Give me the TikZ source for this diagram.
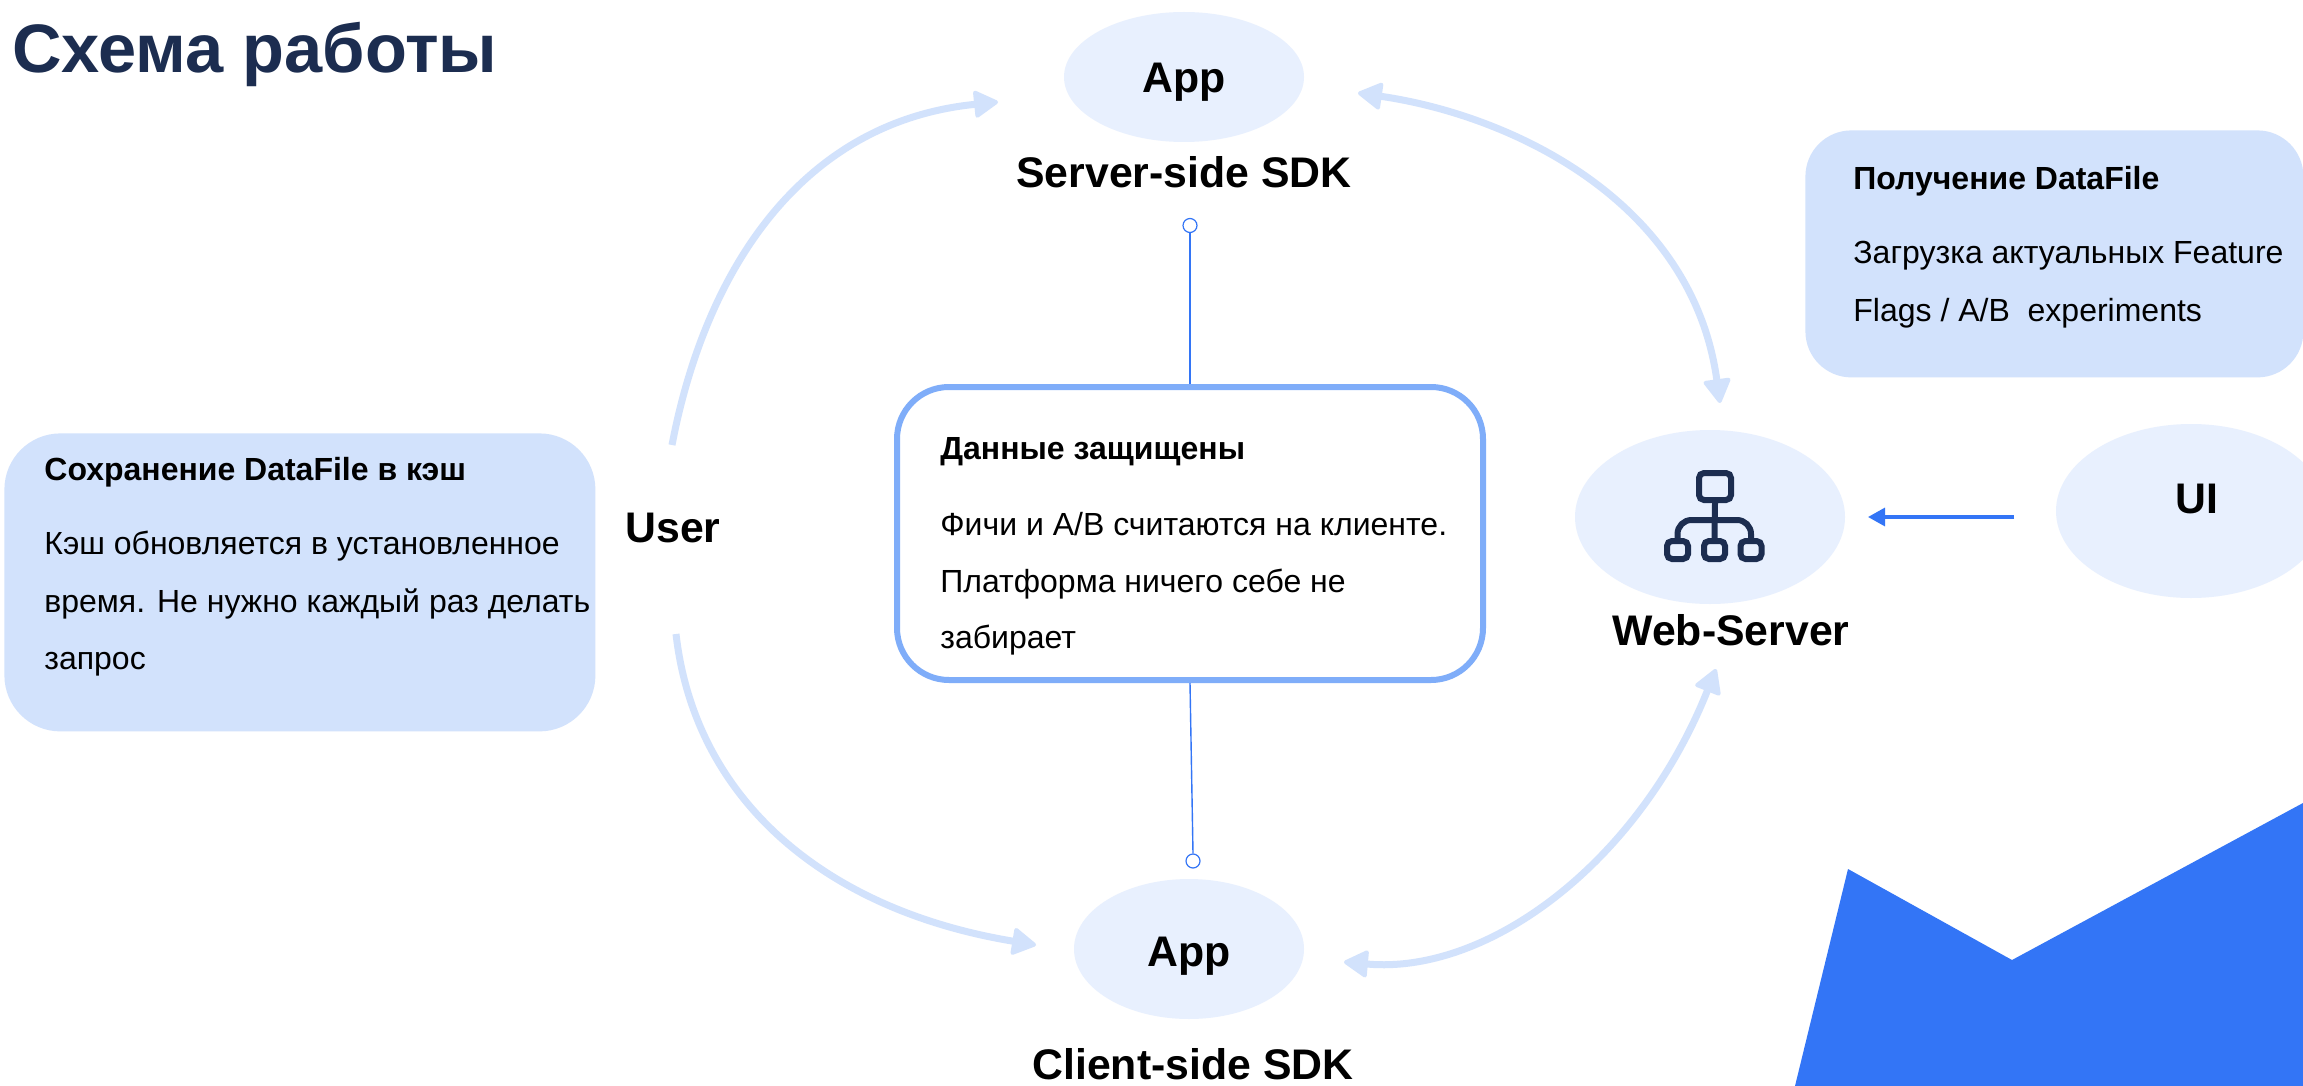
\documentclass[tikz,border=0pt]{standalone}
\usepackage{fontspec}
\setmainfont{Liberation Sans}
\usetikzlibrary{arrows.meta,shapes.geometric}
\definecolor{navy}{HTML}{1C2D50}
\definecolor{softblue}{HTML}{D2E2FC}
\definecolor{paleblue}{HTML}{E8F0FE}
\definecolor{edgeblue}{HTML}{7FADF9}
\definecolor{vivid}{HTML}{3375F6}
\tikzset{
  bubble/.style={ellipse,fill=paleblue,inner sep=0pt},
  notebox/.style={rectangle,fill=softblue,rounded corners=23pt,inner sep=0pt,anchor=north west},
  head/.style={anchor=base,inner sep=0pt,font=\fontsize{21.4pt}{24pt}\selectfont\bfseries,text=black},
  ntitle/.style={anchor=base west,inner sep=0pt,font=\fontsize{16pt}{19pt}\selectfont\bfseries,text=black},
  nbody/.style={anchor=base west,inner sep=0pt,font=\fontsize{16pt}{19pt}\selectfont,text=black},
  flow/.style={draw=softblue,line width=3.5pt,{Triangle[length=13pt,width=14.5pt,round,line width=2pt]}-{Triangle[length=13pt,width=14.5pt,round,line width=2pt]}},
  flowone/.style={draw=softblue,line width=3.5pt,-{Triangle[length=13pt,width=14.5pt,round,line width=2pt]}},
  pin/.style={circle,draw=vivid,line width=0.6pt,fill=white,minimum size=7pt,inner sep=0pt},
  pinline/.style={draw=vivid,line width=0.7pt},
  iconbox/.style={rectangle,draw=navy,line width=3pt,rounded corners=2.5pt,inner sep=0pt},
}
\begin{document}
\begin{tikzpicture}[x=0.5pt,y=-0.5pt]
\useasboundingbox (0,0) rectangle (2303,1086);
\clip (0,0) rectangle (2303,1086);
\fill[white] (0,0) rectangle (2303,1086);
% decoration
\fill[vivid] (1848,869) -- (2012,960) -- (2303,803) -- (2303,1086) -- (1795,1086) -- cycle;
% title
\node[anchor=base west,inner sep=0pt,font=\fontsize{34.3pt}{38pt}\selectfont\bfseries,text=navy] (title) at (12,73) {Схема работы};
% bubbles
\node[bubble,minimum width=120pt,minimum height=65pt] (srvapp) at (1184,77) {};
\node[bubble,minimum width=115pt,minimum height=70pt] (cliapp) at (1189,949) {};
\node[bubble,minimum width=135pt,minimum height=87pt] (web) at (1710,517) {};
\node[bubble,minimum width=135pt,minimum height=87pt] (ui) at (2191,511) {};
% note boxes
\node[notebox,rounded corners=28pt,minimum width=295.5pt,minimum height=149pt] (leftbox) at (4,433) {};
\node[notebox,minimum width=249pt,minimum height=123.5pt] (rightbox) at (1805,130) {};
\node[rectangle,draw=edgeblue,line width=3pt,fill=white,rounded corners=26pt,minimum width=293pt,minimum height=146.5pt,inner sep=0pt,anchor=north west] (midbox) at (894,384) {};
% pins
\node[pin] (pintop) at (1190,225.5) {};
\node[pin] (pinbot) at (1193,861) {};
\draw[pinline] (midbox.north) -- (pintop.south);
\draw[pinline] (midbox.south) -- (pinbot.north);
% labels
\node[head] (lapp1) at (1184,93) {App};
\node[head] (lsrv) at (1184,187) {Server-side SDK};
\node[head] (lapp2) at (1189,966) {App};
\node[head] (lcli) at (1193,1079) {Client-side SDK};
\node[head] (lweb) at (1731,645) {Web-Server};
\node[head] (lui) at (2197,513) {UI};
\node[head] (luser) at (673,542) {User};
% left box text
\node[ntitle] (t1) at (44,480) {Сохранение DataFile в кэш};
\node[nbody] (t2) at (44,554) {Кэш обновляется в установленное};
\node[nbody] (t3) at (44,612) {время. Не нужно каждый раз делать};
\node[nbody] (t4) at (44,669) {запрос};
% right box text
\node[ntitle] (r1) at (1853,190) {Получение DataFile};
\node[nbody] (r2) at (1853,263) {Загрузка актуальных Feature};
\node[nbody] (r3) at (1853,321) {Flags / A/B\ \ experiments};
% mid box text
\node[ntitle] (m1) at (940,459) {Данные защищены};
\node[nbody] (m2) at (940,535) {Фичи и A/B считаются на клиенте.};
\node[nbody] (m3) at (940,592) {Платформа ничего себе не};
\node[nbody] (m4) at (940,648) {забирает};
% icon
\node[iconbox,minimum width=16pt,minimum height=13.5pt] (icontop) at (1715,486.5) {};
\node[iconbox,minimum width=10.5pt,minimum height=9pt] (icona) at (1677.5,550) {};
\node[iconbox,minimum width=10.5pt,minimum height=9pt] (iconb) at (1714.5,550) {};
\node[iconbox,minimum width=10.5pt,minimum height=9pt] (iconc) at (1751,550) {};
\draw[navy,line width=3pt] (icontop.south) -- (iconb.north);
\draw[navy,line width=3pt,rounded corners=7pt] (icona.north) |- (1714.5,520) -| (iconc.north);
% flow endpoints
\coordinate (ua) at (672,445);
\coordinate (sa) at (998,102);
\coordinate (ub) at (676,634);
\coordinate (ca) at (1036,945);
\coordinate (sw) at (1358,93);
\coordinate (ws) at (1720,403);
\coordinate (cw) at (1344,962);
\coordinate (wc) at (1716,669);
% flows
\draw[flowone] (ua) .. controls (705,272) and (800,122) .. (sa);
\draw[flowone] (ub) .. controls (695,800) and (825,910) .. (ca);
\draw[flow] (sw) .. controls (1510,115) and (1692,200) .. (ws);
\draw[flow] (cw) .. controls (1490,975) and (1640,860) .. (wc);
% ui arrow
\coordinate (uiout) at (2014,517);
\coordinate (webin) at (1868,517);
\draw[vivid,line width=1.6pt,-{Triangle[length=8.5pt,width=9pt]}] (uiout) -- (webin);
\end{tikzpicture}
\end{document}
